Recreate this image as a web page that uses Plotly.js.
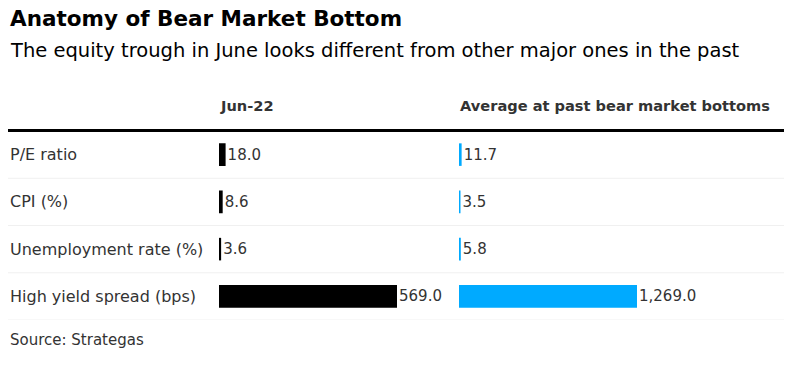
<!DOCTYPE html>
<html>
<head>
<meta charset="utf-8">
<script src="https://cdn.plot.ly/plotly-3.0.1.min.js"></script>
<style>html,body{margin:0;padding:0;background:#fff;}#chart{width:811px;height:365px;}</style>
</head>
<body>
<div id="chart"></div>
<script>
const categories = ["P/E ratio", "CPI (%)", "Unemployment rate (%)", "High yield spread (bps)"];
const jun22 = [18.0, 8.6, 3.6, 569.0];
const pastAverage = [11.7, 3.5, 5.8, 1269.0];
const columnHeaders = ["Jun-22", "Average at past bear market bottoms"];
const titleText = "Anatomy of Bear Market Bottom";
const subtitleText = "The equity trough in June looks different from other major ones in the past";
const sourceText = "Source: Strategas";

const W = 811, H = 365;
const FONT = "'DejaVu Sans', 'Liberation Sans', Arial, sans-serif";
const px = v => v / W;
const py = v => 1 - v / H;

const maxBarPx = 177;
const col1 = [219, 452];
const col2 = [459, 784];
const range1 = Math.max(...jun22) * (col1[1] - col1[0]) / maxBarPx;
const range2 = Math.max(...pastAverage) * (col2[1] - col2[0]) / maxBarPx;

const common = {
  type: 'bar', orientation: 'h', y: categories, width: 0.435,
  texttemplate: '%{x:,.1f}', textposition: 'outside', cliponaxis: false,
  constraintext: 'none', hoverinfo: 'skip',
  textfont: {family: FONT, size: 15, color: '#333333'}
};
const traces = [
  Object.assign({}, common, {x: jun22, xaxis: 'x', yaxis: 'y',
    marker: {color: '#000000', line: {color: '#000000', width: 2}}}),
  Object.assign({}, common, {x: pastAverage, xaxis: 'x2', yaxis: 'y',
    marker: {color: '#00aaff', line: {color: '#00aaff', width: 2}}})
];

const annotations = [
  {text: '<b>' + titleText + '</b>', x: px(8), y: py(18), font: {size: 21.5, color: '#000'}},
  {text: subtitleText, x: px(8), y: py(50), font: {size: 19.5, color: '#000'}},
  {text: '<b>' + columnHeaders[0] + '</b>', x: px(218), y: py(106), font: {size: 14.6, color: '#333333'}},
  {text: '<b>' + columnHeaders[1] + '</b>', x: px(458), y: py(106), font: {size: 14.6, color: '#333333'}},
  {text: sourceText, x: px(8), y: py(340), font: {size: 15, color: '#333333'}}
].map(a => Object.assign({xref: 'paper', yref: 'paper', xanchor: 'left', yanchor: 'middle', showarrow: false}, a));

categories.forEach(c => annotations.push({
  text: c, xref: 'paper', yref: 'y', x: px(8), y: c, xanchor: 'left', yanchor: 'middle',
  showarrow: false, font: {size: 16, color: '#333333'}
}));

const shapes = [
  {type: 'line', xref: 'paper', yref: 'paper', x0: px(8), x1: px(784), y0: py(130.5), y1: py(130.5),
   line: {color: '#000', width: 3}}
];
[0.5, 1.5, 2.5, 3.5].forEach(b => shapes.push({
  type: 'line', xref: 'paper', yref: 'y', x0: px(8), x1: px(784), y0: b, y1: b,
  line: {color: '#f0f0f0', width: 1}
}));

const layout = {
  width: W, height: H, margin: {l: 0, r: 0, t: 0, b: 0},
  paper_bgcolor: '#fff', plot_bgcolor: 'rgba(0,0,0,0)',
  font: {family: FONT, color: '#333'},
  showlegend: false, barmode: 'overlay',
  xaxis: {domain: [px(col1[0]), px(col1[1])], range: [0, range1], visible: false, fixedrange: true},
  xaxis2: {domain: [px(col2[0]), px(col2[1])], range: [0, range2], visible: false, anchor: 'y', fixedrange: true},
  yaxis: {domain: [py(320), py(131)], type: 'category', range: [3.5, -0.5], visible: false, fixedrange: true},
  annotations: annotations, shapes: shapes
};
Plotly.newPlot('chart', traces, layout, {displayModeBar: false, staticPlot: true});
</script>
</body>
</html>
